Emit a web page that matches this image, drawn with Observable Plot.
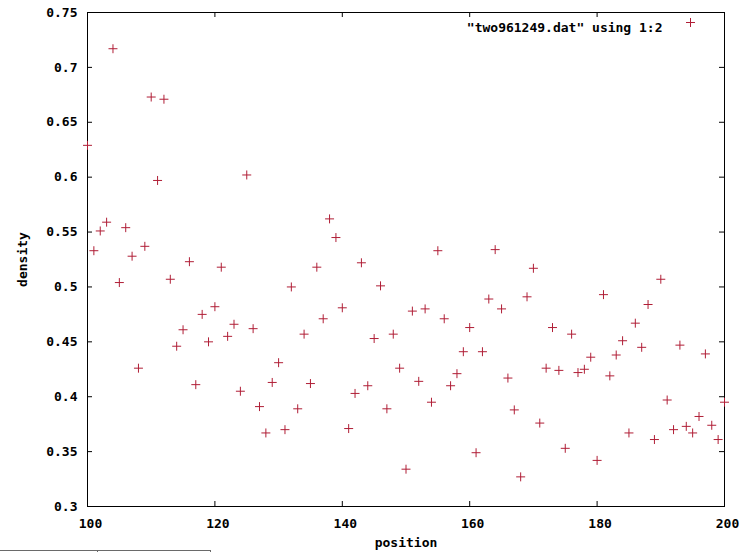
<!DOCTYPE html>
<html>
<head>
<meta charset="utf-8">
<script src="https://cdn.jsdelivr.net/npm/d3@7"></script>
<script src="https://cdn.jsdelivr.net/npm/@observablehq/plot@0.6"></script>
<style>
  body { margin: 0; background: #fff; }
  #wrap { position: relative; width: 749px; height: 552px; overflow: hidden; background: #fff; }
  #wrap svg { display: block; }
  .cell { position: absolute; top: 550px; height: 12px; box-sizing: border-box;
          border-top: 1px solid #6a6a6a; border-right: 1px solid #6a6a6a; }
</style>
</head>
<body>
<div id="wrap"></div>
<script>
// ---- data ----
const positions = [
  100, 101, 102, 103, 104, 105, 106, 107, 108, 109,
  110, 111, 112, 113, 114, 115, 116, 117, 118, 119,
  120, 121, 122, 123, 124, 125, 126, 127, 128, 129,
  130, 131, 132, 133, 134, 135, 136, 137, 138, 139,
  140, 141, 142, 143, 144, 145, 146, 147, 148, 149,
  150, 151, 152, 153, 154, 155, 156, 157, 158, 159,
  160, 161, 162, 163, 164, 165, 166, 167, 168, 169,
  170, 171, 172, 173, 174, 175, 176, 177, 178, 179,
  180, 181, 182, 183, 184, 185, 186, 187, 188, 189,
  190, 191, 192, 193, 194, 195, 196, 197, 198, 199,
  200
];
const densities = [
  0.629, 0.533, 0.551, 0.559, 0.717, 0.504, 0.554, 0.528, 0.426, 0.537,
  0.673, 0.597, 0.671, 0.507, 0.446, 0.461, 0.523, 0.411, 0.475, 0.450,
  0.482, 0.518, 0.455, 0.466, 0.405, 0.602, 0.462, 0.391, 0.367, 0.413,
  0.431, 0.370, 0.500, 0.389, 0.457, 0.412, 0.518, 0.471, 0.562, 0.545,
  0.481, 0.371, 0.403, 0.522, 0.410, 0.453, 0.501, 0.389, 0.457, 0.426,
  0.334, 0.478, 0.414, 0.480, 0.395, 0.533, 0.471, 0.410, 0.421, 0.441,
  0.463, 0.349, 0.441, 0.489, 0.534, 0.480, 0.417, 0.388, 0.327, 0.491,
  0.517, 0.376, 0.426, 0.463, 0.424, 0.353, 0.457, 0.422, 0.425, 0.436,
  0.342, 0.493, 0.419, 0.438, 0.451, 0.367, 0.467, 0.445, 0.484, 0.361,
  0.507, 0.397, 0.370, 0.447, 0.373, 0.367, 0.382, 0.439, 0.374, 0.361,
  0.395
];
const xTickValues = [100, 120, 140, 160, 180, 200];
const yTickValues = [0.3, 0.35, 0.4, 0.45, 0.5, 0.55, 0.6, 0.65, 0.7, 0.75];
const xLabel = "position";
const yLabel = "density";
const seriesLabel = "\"two961249.dat\" using 1:2";

// ---- layout / style ----
const W = 749, H = 552;
const mt = 12, mb = 46, ml = 87, mr = 25;
const ph = H - mt - mb, pw = W - ml - mr;
const tickLen = 5;
const pointColor = "#b01e36";
const fontCss = "font-family:'DejaVu Sans Mono',monospace;font-size:13px;font-weight:bold;color:#000;background:#fff;";

const data = positions.map((x, i) => ({position: x, density: densities[i]}));

const chart = Plot.plot({
  width: W,
  height: H,
  marginTop: mt,
  marginBottom: mb,
  marginLeft: ml,
  marginRight: mr,
  style: fontCss,
  x: {domain: [100, 200]},
  y: {domain: [0.3, 0.75]},
  marks: [
    // inward ticks on all four sides (gnuplot style)
    Plot.ruleX(xTickValues, {insetTop: ph - tickLen, stroke: "#000"}),
    Plot.ruleX(xTickValues, {insetBottom: ph - tickLen, stroke: "#000"}),
    Plot.ruleY(yTickValues, {insetRight: pw - tickLen, stroke: "#000"}),
    Plot.ruleY(yTickValues, {insetLeft: pw - tickLen, stroke: "#000"}),
    Plot.frame({stroke: "#000"}),
    Plot.axisX({
      ticks: xTickValues, tickSize: 0, tickPadding: 12, dx: 3,
      tickFormat: d => String(d),
      label: xLabel, labelAnchor: "center", labelArrow: "none", labelOffset: 40
    }),
    Plot.axisY({
      ticks: yTickValues, tickSize: 0, tickPadding: 10,
      tickFormat: d => String(d),
      label: yLabel, labelAnchor: "center", labelArrow: "none", labelOffset: 70
    }),
    Plot.dot(data, {
      x: "position", y: "density", symbol: "plus", r: 3,
      stroke: pointColor, strokeWidth: 1
    }),
    // key
    Plot.text([seriesLabel], {
      frameAnchor: "top-right", text: d => d, textAnchor: "end",
      dx: -62, dy: 10, fill: "#000"
    }),
    Plot.dot([seriesLabel], {
      frameAnchor: "top-right", symbol: "plus", r: 3,
      stroke: pointColor, strokeWidth: 1, dx: -34, dy: 10
    })
  ]
});

const wrap = document.getElementById("wrap");
wrap.appendChild(chart);

// stray table border visible at the bottom-left of the reference screenshot
const c1 = document.createElement("div");
c1.className = "cell"; c1.style.left = "0px"; c1.style.width = "98px";
const c2 = document.createElement("div");
c2.className = "cell"; c2.style.left = "98px"; c2.style.width = "113px";
wrap.appendChild(c1); wrap.appendChild(c2);
</script>
</body>
</html>
